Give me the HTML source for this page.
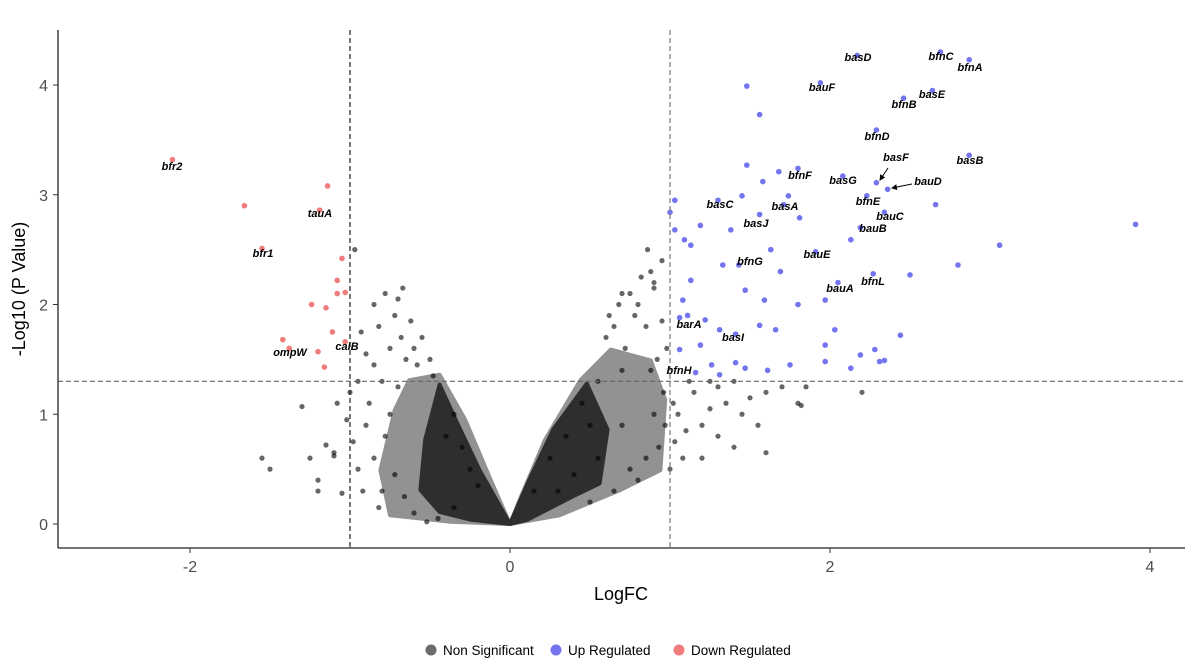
<!DOCTYPE html>
<html><head><meta charset="utf-8"><style>
body{margin:0;background:#fff;}
svg{display:block;font-family:"Liberation Sans",Arial,sans-serif;}
</style></head><body>
<svg id="chart" width="1198" height="661" viewBox="0 0 1198 661"></svg>
<script>
// ---- data ----
const xTicks=[-2,0,2,4];
const yTicks=[0,1,2,3,4];
const upX=[2.17,2.69,2.87,1.94,2.64,2.46,2.29,2.87,1.80,2.08,2.29,2.36,2.23,1.30,1.71,2.34,1.56,2.19,1.43,1.91,2.27,2.05,1.06,1.41,1.16,
1.48,1.56,1.48,1.68,1.58,1.45,1.74,1.03,1.81,2.66,3.06,3.91,2.80,1.09,1.33,1.63,2.13,1.69,1.13,1.47,1.59,1.80,1.97,1.08,1.11,1.22,1.31,1.56,1.66,2.03,2.44,1.97,2.28,2.19,2.34,1.06,1.19,1.26,1.41,1.47,1.61,1.31,1.75,1.97,2.13,2.31,1.13,1.19,1.38,2.50,1.00,1.03];
const upY=[4.27,4.30,4.23,4.02,3.95,3.88,3.59,3.36,3.24,3.17,3.11,3.05,2.99,2.95,2.91,2.84,2.82,2.70,2.36,2.48,2.28,2.20,1.88,1.73,1.38,
3.99,3.73,3.27,3.21,3.12,2.99,2.99,2.95,2.79,2.91,2.54,2.73,2.36,2.59,2.36,2.50,2.59,2.30,2.22,2.13,2.04,2.00,2.04,2.04,1.90,1.86,1.77,1.81,1.77,1.77,1.72,1.63,1.59,1.54,1.49,1.59,1.63,1.45,1.47,1.42,1.40,1.36,1.45,1.48,1.42,1.48,2.54,2.72,2.68,2.27,2.84,2.68];
const upLabels=["basD","bfnC","bfnA","bauF","basE","bfnB","bfnD","basB","bfnF","basG","basF","bauD","bfnE","basC","basA","bauC","basJ","bauB","bfnG","bauE","bfnL","bauA","barA","basI","bfnH"];
const upLabelPos=[[858,61],[941,60],[970,71],[822,91],[932,98],[904,108],[877,140],[970,164],[800,179],[843,184],[896,161],[928,185],[868,205],[720,208],[785,210],[890,220],[756,227],[873,232],[750,265],[817,258],[873,285],[840,292],[689,328],[733,341],[679,374]];
const downX=[-2.11,-1.19,-1.55,-1.16,-1.03,-1.66,-1.14,-1.05,-1.08,-1.08,-1.03,-1.24,-1.15,-1.11,-1.42,-1.38,-1.20];
const downY=[3.32,2.86,2.51,1.43,1.66,2.90,3.08,2.42,2.22,2.10,2.11,2.00,1.97,1.75,1.68,1.60,1.57];
const downLabels=["bfr2","tauA","bfr1","ompW","calB"];
const downLabelPos=[[172,170],[320,217],[263,257],[290,356],[347,350]];
const nsX=[-1.55,-1.5,-1.3,-1.25,-1.2,-1.15,-1.1,-1.1,-1.05,-1.0,-0.97,-0.95,-0.9,-0.85,-0.82,-0.78,-0.75,-0.72,-0.7,-0.68,-0.65,-0.62,-0.9,-0.85,-0.8,-0.75,-0.95,-0.92,-0.88,-0.8,-0.78,-0.72,-0.7,-0.66,-0.6,-0.58,-0.55,-0.5,-0.48,-0.45,-0.4,-0.35,-0.3,-0.25,-0.2,-0.85,-1.02,-0.98,-1.08,-0.93,-0.67,-0.6,-0.52,-0.35,-1.2,-0.82,
0.15,0.25,0.3,0.35,0.45,0.5,0.55,0.6,0.62,0.65,0.68,0.7,0.72,0.75,0.78,0.8,0.82,0.85,0.88,0.9,0.92,0.95,0.86,0.96,0.98,0.97,0.9,0.85,0.8,0.75,0.7,0.65,1.02,1.05,1.1,1.15,1.2,1.25,1.3,1.35,1.4,1.45,1.5,1.55,1.6,1.7,1.8,1.82,1.85,1.6,2.2,1.08,1.12,1.25,1.0,0.55,0.4,0.5,1.2,0.93,1.03,1.4,1.3,0.95,0.9,0.88,0.7];
const nsY=[0.6,0.5,1.07,0.6,0.4,0.72,0.65,0.62,0.28,1.2,2.5,1.3,1.55,2.0,1.8,2.1,1.6,1.9,2.05,1.7,1.5,1.85,0.9,0.6,0.3,1.0,0.5,0.3,1.1,1.3,0.8,0.45,1.25,0.25,1.6,1.45,1.7,1.5,1.35,0.05,0.8,1.0,0.7,0.5,0.35,1.45,0.95,0.75,1.1,1.75,2.15,0.1,0.02,0.15,0.3,0.15,
0.3,0.6,0.3,0.8,1.1,0.9,1.3,1.7,1.9,1.8,2.0,1.4,1.6,2.1,1.9,2.0,2.25,1.8,1.4,2.2,1.5,2.4,2.5,1.2,1.6,0.9,1.0,0.6,0.4,0.5,0.9,0.3,1.1,1.0,0.85,1.2,0.9,1.05,0.8,1.1,0.7,1.0,1.15,0.9,1.2,1.25,1.1,1.08,1.25,0.65,1.2,0.6,1.3,1.3,0.5,0.6,0.45,0.2,0.6,0.7,0.75,1.3,1.25,1.85,2.15,2.3,2.1];
// density envelopes (data units)
const medLeftX=[0,-0.37,-0.75,-0.81,-0.72,-0.63,-0.44,-0.28,-0.12];
const medLeftY=[0,0.02,0.08,0.49,1.04,1.31,1.36,0.95,0.40];
const coreLeftX=[0,-0.25,-0.44,-0.56,-0.53,-0.44,-0.34,-0.19];
const coreLeftY=[0,0.04,0.11,0.31,0.77,1.27,0.95,0.49];
const medRightX=[0,0.31,0.69,0.94,0.97,0.88,0.63,0.44,0.22,0.06];
const medRightY=[0,0.08,0.31,0.49,1.13,1.49,1.59,1.31,0.77,0.22];
const coreRightX=[0,0.11,0.39,0.56,0.61,0.48,0.39,0.27,0.12];
const coreRightY=[0,0.04,0.25,0.37,0.86,1.28,1.10,0.86,0.40];
const pThreshold=1.3, fcLo=-1, fcHi=1;

// ---- scales ----
const X=v=>510+v*160, Y=v=>524-v*109.75;
const svg=document.getElementById('chart');
const NS='http://www.w3.org/2000/svg';
function mk(tag,attrs,parent){const e=document.createElementNS(NS,tag);for(const k in attrs)e.setAttribute(k,attrs[k]);(parent||svg).appendChild(e);return e;}

[[medLeftX,medLeftY,'medium-left','#929292'],[medRightX,medRightY,'medium-right','#929292'],[coreLeftX,coreLeftY,'core-left','#2e2e2e'],[coreRightX,coreRightY,'core-right','#2e2e2e']].forEach(([cx,cy,s,col])=>{
 const p=mk('polygon',{points:cx.map((v,i)=>X(v)+','+Y(cy[i])).join(' '),fill:col,stroke:col,'stroke-width':4,'stroke-linejoin':'round'});
 
 
});
nsX.forEach((v,i)=>{const c=mk('circle',{cx:X(v),cy:Y(nsY[i]),r:2.6,fill:'rgba(0,0,0,0.6)'});
 
 });
upX.forEach((v,i)=>{const c=mk('circle',{cx:X(v),cy:Y(upY[i]),r:2.8,fill:'#7474ee'});
 
 });
downX.forEach((v,i)=>{const c=mk('circle',{cx:X(v),cy:Y(downY[i]),r:2.8,fill:'#f07c7c'});
 
 });

let l=mk('line',{x1:X(fcLo),x2:X(fcLo),y1:30,y2:548,stroke:'#222','stroke-dasharray':'5,3','stroke-width':1.2});


l=mk('line',{x1:X(fcHi),x2:X(fcHi),y1:30,y2:548,stroke:'#777','stroke-dasharray':'5,3','stroke-width':1.2});


l=mk('line',{x1:58,x2:1185,y1:Y(pThreshold),y2:Y(pThreshold),stroke:'#666','stroke-dasharray':'5,3','stroke-width':1.2});



function lab(txt,pos){const t=mk('text',{x:pos[0],y:pos[1],'text-anchor':'middle','font-size':11,'font-weight':'bold','font-style':'italic',fill:'#000'});t.textContent=txt;
 
 }
upLabels.forEach((t,i)=>lab(t,upLabelPos[i]));
downLabels.forEach((t,i)=>lab(t,downLabelPos[i]));
mk('defs',{}).innerHTML='<marker id="ah" viewBox="0 0 6 6" refX="5" refY="3" markerWidth="6" markerHeight="6" orient="auto"><path d="M0,0L6,3L0,6z" fill="#000"/></marker>';
l=mk('line',{x1:888,y1:168,x2:880,y2:180,stroke:'#000','marker-end':'url(#ah)'});


l=mk('line',{x1:912,y1:184,x2:892,y2:188,stroke:'#000','marker-end':'url(#ah)'});



l=mk('line',{x1:58,x2:58,y1:30,y2:548,stroke:'#222','stroke-width':1.3});


l=mk('line',{x1:58,x2:1185,y1:548,y2:548,stroke:'#222','stroke-width':1.3});


xTicks.forEach(v=>{mk('line',{x1:X(v),x2:X(v),y1:548,y2:553,stroke:'#333'});
 const t=mk('text',{x:X(v),y:572,'text-anchor':'middle','font-size':16,fill:'#4d4d4d'});t.textContent=v;
 
 });
yTicks.forEach(v=>{mk('line',{x1:53,x2:58,y1:Y(v),y2:Y(v),stroke:'#333'});
 const t=mk('text',{x:48,y:Y(v)+6,'text-anchor':'end','font-size':16,fill:'#4d4d4d'});t.textContent=v;
 
 });
let t=mk('text',{x:621,y:600,'text-anchor':'middle','font-size':18,fill:'#000'});t.textContent='LogFC';


t=mk('text',{x:0,y:0,'text-anchor':'middle','font-size':18,fill:'#000',transform:'translate(25,289) rotate(-90)'});t.textContent='-Log10 (P Value)';



const legNames=['Non Significant','Up Regulated','Down Regulated'];
const legCols=['#6b6b6b','#7474ee','#f07c7c'];
const legX=[431,556,679];
legNames.forEach((n,i)=>{const g=mk('g',{});
 
 
 mk('circle',{cx:legX[i],cy:650,r:5.5,fill:legCols[i]},g);
 const tt=mk('text',{x:legX[i]+12,y:655,'font-size':13.5,fill:'#000'},g);tt.textContent=n;});
</script>
</body></html>
